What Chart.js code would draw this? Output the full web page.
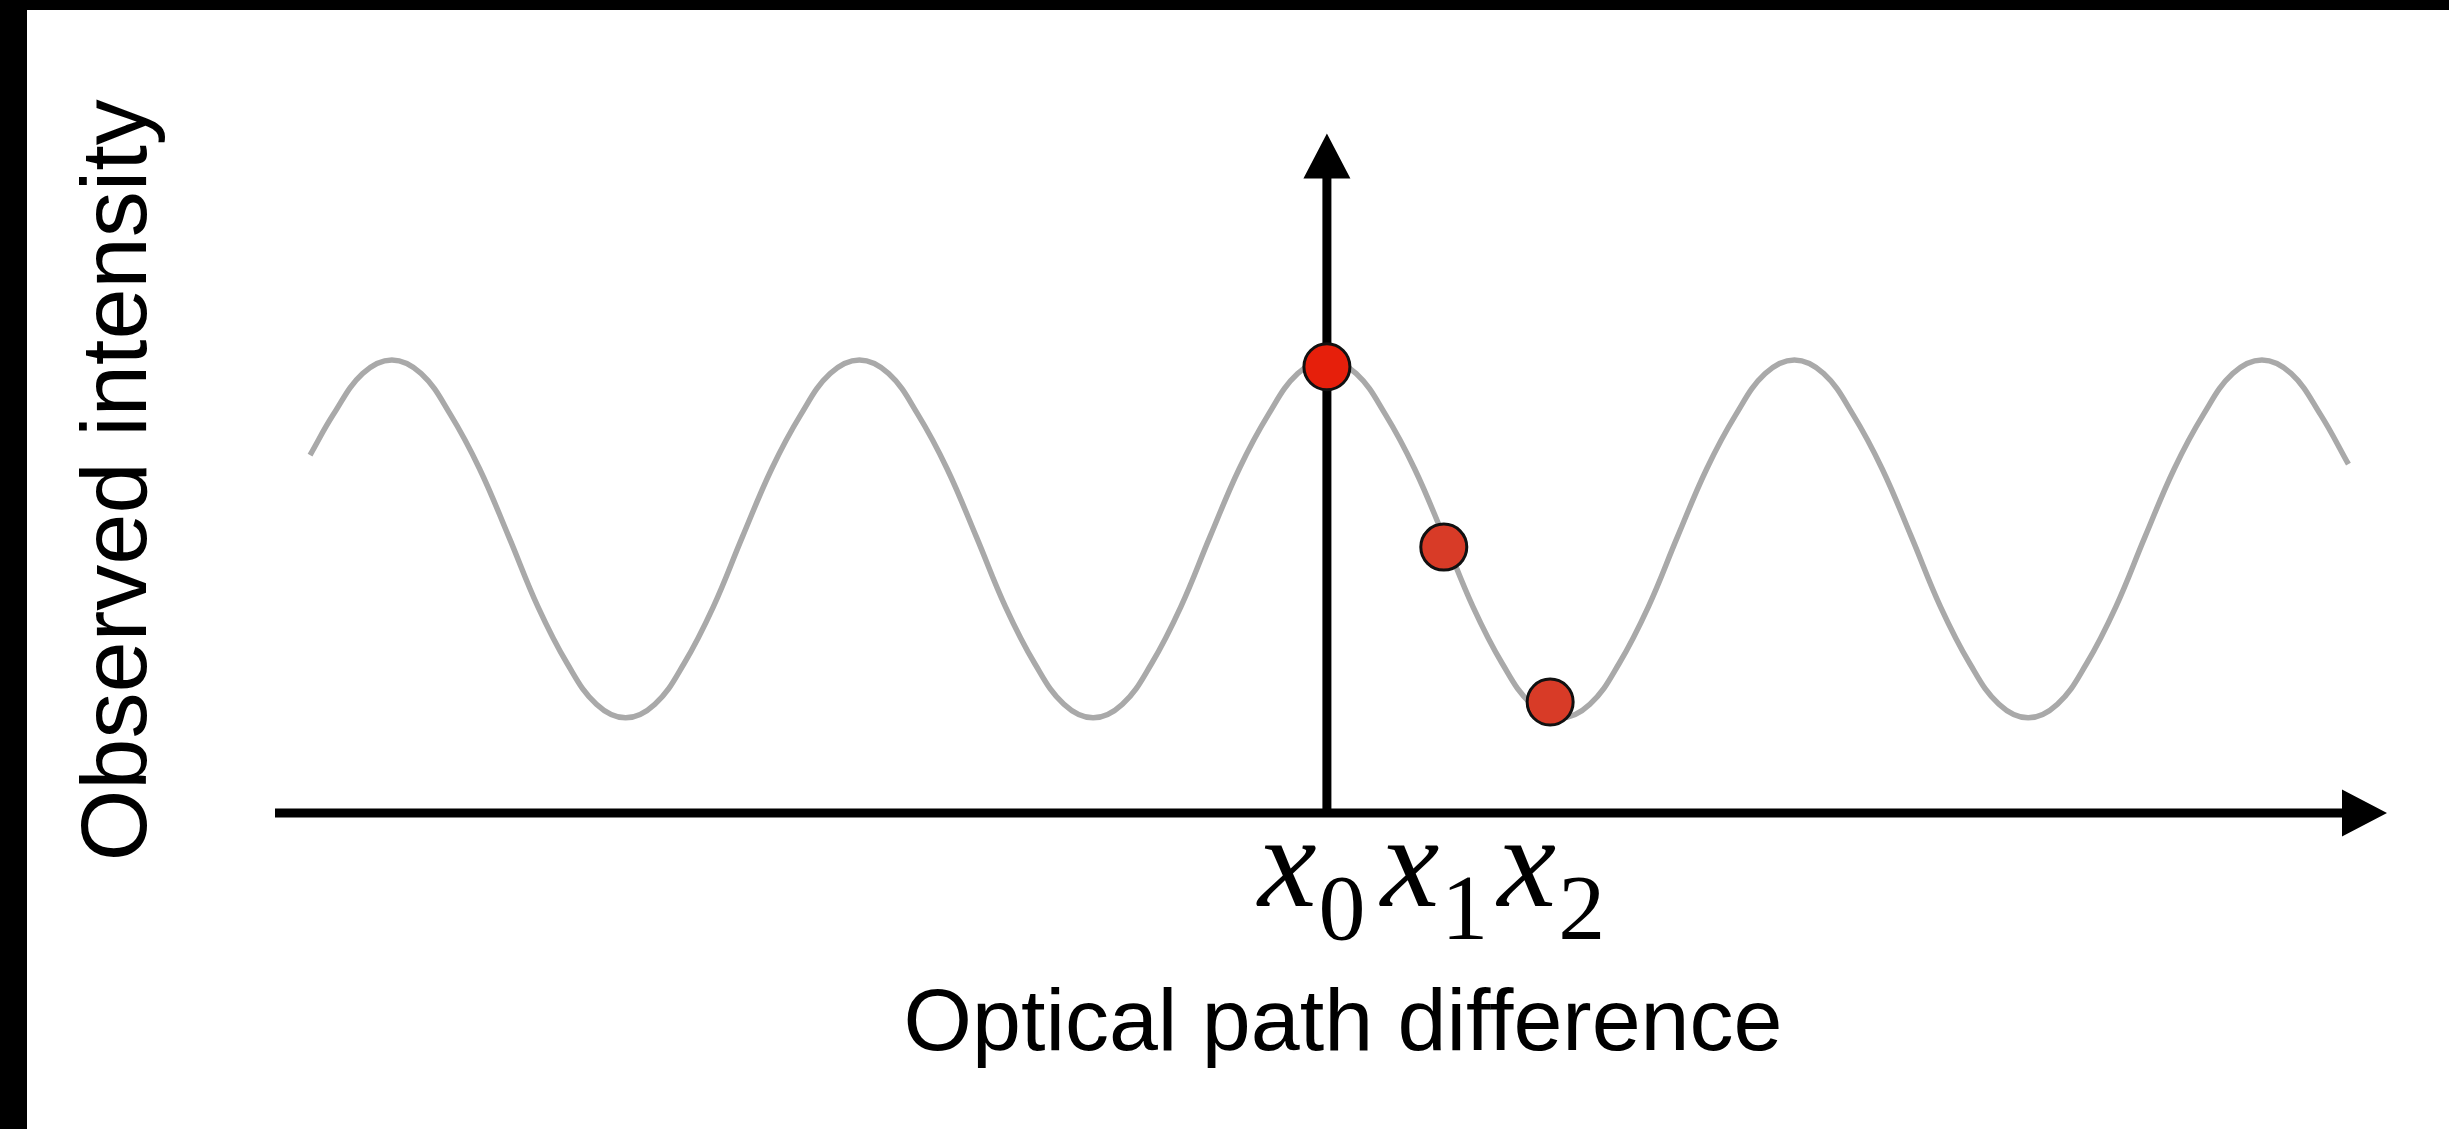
<!DOCTYPE html>
<html>
<head>
<meta charset="utf-8">
<title>Observed intensity vs optical path difference</title>
<script src="https://cdn.jsdelivr.net/npm/chart.js@4.4.1/dist/chart.umd.min.js"></script>
<style>
  html, body { margin: 0; padding: 0; background: #000; overflow: hidden; }
  .sheet { position: absolute; left: 27px; top: 10px; right: 0; bottom: 0; background: #fff; }
  #chart { position: absolute; left: 0; top: 0; }
</style>
</head>
<body>
<div class="sheet"></div>
<canvas id="chart" width="2449" height="1129"></canvas>
<script>
// x unit = a quarter of the fringe period, y = 0 on the horizontal axis, peaks ~ 1
const curveX = [-8.7, -8.5, -8.25,
  -8, -7.75, -7.5, -7.25, -7, -6.75, -6.5, -6.25, -6, -5.75, -5.5, -5.25, -5, -4.75, -4.5, -4.25,
  -4, -3.75, -3.5, -3.25, -3, -2.75, -2.5, -2.25, -2, -1.75, -1.5, -1.25, -1, -0.75, -0.5, -0.25,
  0, 0.25, 0.5, 0.75, 1, 1.25, 1.5, 1.75, 2, 2.25, 2.5, 2.75, 3, 3.25, 3.5, 3.75,
  4, 4.25, 4.5, 4.75, 5, 5.25, 5.5, 5.75, 6, 6.25, 6.5, 6.75, 7, 7.25, 7.5, 7.75,
  8, 8.25, 8.5, 8.74];
const curveY = [0.79, 0.88, 0.97,
  1.0, 0.97, 0.88, 0.76, 0.61, 0.455, 0.33, 0.24, 0.21, 0.24, 0.33, 0.455, 0.61, 0.76, 0.88, 0.97,
  1.0, 0.97, 0.88, 0.76, 0.61, 0.455, 0.33, 0.24, 0.21, 0.24, 0.33, 0.455, 0.61, 0.76, 0.88, 0.97,
  1.0, 0.97, 0.88, 0.76, 0.61, 0.455, 0.33, 0.24, 0.21, 0.24, 0.33, 0.455, 0.61, 0.76, 0.88, 0.97,
  1.0, 0.97, 0.88, 0.76, 0.61, 0.455, 0.33, 0.24, 0.21, 0.24, 0.33, 0.455, 0.61, 0.76, 0.88, 0.97,
  1.0, 0.97, 0.88, 0.77];

// the three sampled positions x0, x1, x2
const sampleX = [0, 1.0, 1.91];
const sampleY = [0.985, 0.587, 0.245];
const sampleColors = ['#e61f0b', '#d83b27', '#d83b27'];

// tick labels under the axis (left edge of each label)
const tickAnchors = [-0.59, 0.46, 1.46];
const tickSubscripts = ['0', '1', '2'];

const xTitle = 'Optical path difference';
const yTitle = 'Observed intensity';

const CURVE_INDEX = 1;

const arrowAxes = {
  id: 'arrowAxes',
  // axes go over the curve but under the red samples
  afterDatasetDraw(chart, args) {
    if (args.index !== CURVE_INDEX) return;
    const { ctx, chartArea, scales } = chart;
    const ox = scales.x.getPixelForValue(0);
    const oy = scales.y.getPixelForValue(0);
    const head = 45, half = 23.5;

    ctx.save();
    ctx.strokeStyle = '#000';
    ctx.fillStyle = '#000';
    ctx.lineWidth = 9;
    ctx.beginPath();
    ctx.moveTo(chartArea.left, oy);
    ctx.lineTo(chartArea.right - head + 2, oy);
    ctx.moveTo(ox, oy);
    ctx.lineTo(ox, chartArea.top + head - 2);
    ctx.stroke();

    ctx.beginPath();
    ctx.moveTo(chartArea.right, oy);
    ctx.lineTo(chartArea.right - head, oy - half);
    ctx.lineTo(chartArea.right - head, oy + half);
    ctx.closePath();
    ctx.moveTo(ox, chartArea.top);
    ctx.lineTo(ox - half, chartArea.top + head);
    ctx.lineTo(ox + half, chartArea.top + head);
    ctx.closePath();
    ctx.fill();
    ctx.restore();
  },
  afterDraw(chart) {
    const { ctx, chartArea, scales } = chart;
    const oy = scales.y.getPixelForValue(0);
    ctx.save();
    ctx.fillStyle = '#000';

    // x0 x1 x2
    ctx.textBaseline = 'alphabetic';
    ctx.textAlign = 'left';
    tickAnchors.forEach((v, i) => {
      const px = scales.x.getPixelForValue(v);
      ctx.font = 'italic 132px "Liberation Serif", "Times New Roman", serif';
      ctx.fillText('x', px, oy + 93);
      const w = ctx.measureText('x').width;
      ctx.font = '94px "Liberation Serif", "Times New Roman", serif';
      ctx.fillText(tickSubscripts[i], px + w + 2, oy + 126);
    });

    // axis titles
    ctx.font = '88px "Liberation Sans", Arial, Helvetica, sans-serif';
    ctx.textAlign = 'center';
    ctx.fillText(xTitle, (chartArea.left + chartArea.right) / 2 + 12, oy + 237);

    ctx.font = '92px "Liberation Sans", Arial, Helvetica, sans-serif';
    ctx.translate(146, (chartArea.top + chartArea.bottom) / 2 + 7);
    ctx.rotate(-Math.PI / 2);
    ctx.fillText(yTitle, 0, 0);
    ctx.restore();
  }
};

new Chart(document.getElementById('chart'), {
  type: 'scatter',
  data: {
    datasets: [
      {
        label: 'samples',
        data: sampleX.map((x, i) => ({ x: x, y: sampleY[i] })),
        pointRadius: 23,
        pointBackgroundColor: sampleColors,
        pointBorderColor: '#111',
        pointBorderWidth: 3,
        showLine: false,
        order: 0
      },
      {
        label: 'intensity',
        data: curveX.map((x, i) => ({ x: x, y: curveY[i] })),
        showLine: true,
        borderColor: '#a9a9a9',
        borderWidth: 5.5,
        pointRadius: 0,
        tension: 0.4,
        order: 1
      }
    ]
  },
  options: {
    responsive: false,
    animation: false,
    devicePixelRatio: 1,
    layout: { padding: { left: 275, right: 62, top: 133.5, bottom: 316 } },
    scales: {
      x: { type: 'linear', min: -9, max: 9.07, display: false },
      y: { type: 'linear', min: 0, max: 1.5, display: false }
    },
    plugins: {
      legend: { display: false },
      tooltip: { enabled: false }
    },
    events: []
  },
  plugins: [arrowAxes]
});
</script>
</body>
</html>
